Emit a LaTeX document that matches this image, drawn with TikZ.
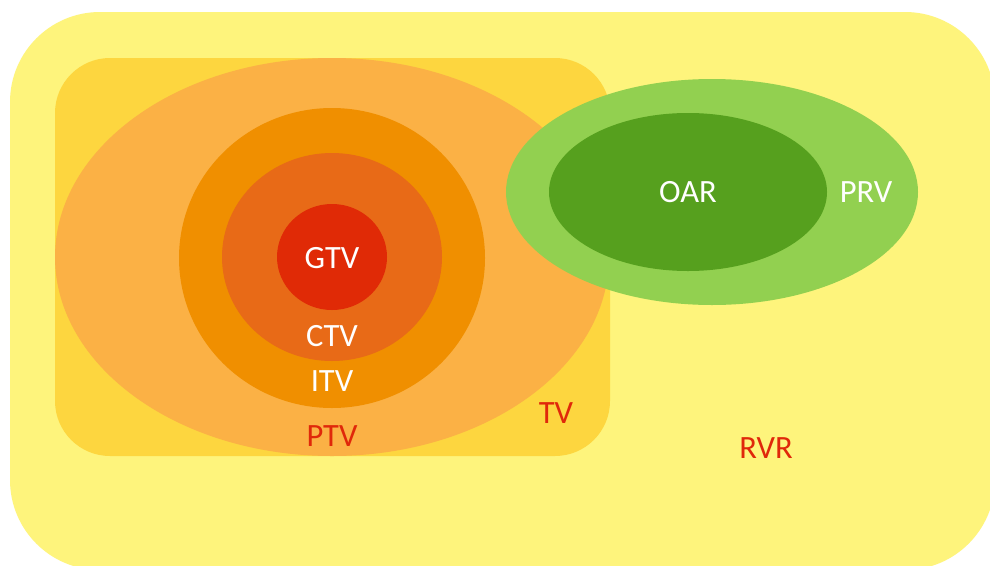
\documentclass[tikz,border=0pt]{standalone}
\usepackage{fontspec}
\setmainfont{Carlito}
\definecolor{rvrfill}{HTML}{FEF47C}
\definecolor{tvfill}{HTML}{FDD63F}
\definecolor{ptvfill}{HTML}{FBB145}
\definecolor{itvfill}{HTML}{F08F00}
\definecolor{ctvfill}{HTML}{E86A17}
\definecolor{gtvfill}{HTML}{E02A06}
\definecolor{prvfill}{HTML}{92D050}
\definecolor{oarfill}{HTML}{56A01E}
\definecolor{labelred}{HTML}{E0280A}
\tikzset{
	vol/.style={font=\fontsize{18.5}{22}\selectfont, inner sep=0pt},
	vollight/.style={vol, text=white},
	voldark/.style={vol, text=labelred}
}

\begin{document}
\begin{tikzpicture}[x=0.02cm,y=-0.02cm]
	\clip (0,0) rectangle (990,565);
	\fill[white] (0,0) rectangle (990,565);
	\fill[rvrfill,rounded corners=90*0.02cm] (10,12) rectangle (995,570);
	\fill[tvfill,rounded corners=55*0.02cm] (55,58) rectangle (610,456);
	\fill[ptvfill] (332,257) ellipse [x radius=277,y radius=199];
	\fill[itvfill] (332,258) ellipse [x radius=153,y radius=150];
	\fill[ctvfill] (332,257) ellipse [x radius=110,y radius=104];
	\fill[gtvfill] (332,257) ellipse [x radius=55,y radius=53];
	\fill[prvfill] (712,192) ellipse [x radius=206,y radius=113];
	\fill[oarfill] (688,192) ellipse [x radius=139,y radius=79];
%	labels
	\node[vollight] (gtv) at (332,258) {GTV};
	\node[vollight] (ctv) at (332,336) {CTV};
	\node[vollight] (itv) at (332,381) {ITV};
	\node[voldark] (ptv) at (332,436) {PTV};
	\node[voldark] (tv) at (556,413) {TV};
	\node[vollight] (oar) at (688,192) {OAR};
	\node[vollight] (prv) at (866,192) {PRV};
	\node[voldark] (rvr) at (766,448) {RVR};
\end{tikzpicture}
\end{document}
